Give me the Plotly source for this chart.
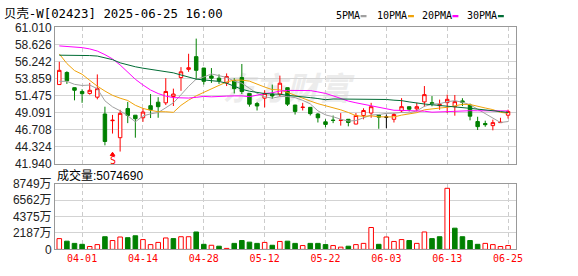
import plotly.graph_objects as go

# ---------------- data ----------------
dates = ["03-27", "03-28", "03-31", "04-01", "04-02", "04-03", "04-07", "04-08", "04-09", "04-10",
         "04-11", "04-14", "04-15", "04-16", "04-17", "04-22", "04-23", "04-24", "04-25", "04-28",
         "04-29", "04-30", "05-02", "05-06", "05-07", "05-08", "05-09", "05-12", "05-13", "05-14",
         "05-15", "05-16", "05-19", "05-20", "05-21", "05-22", "05-23", "05-26", "05-27", "05-28",
         "05-29", "05-30", "06-02", "06-03", "06-04", "06-05", "06-06", "06-09", "06-10", "06-11",
         "06-12", "06-13", "06-16", "06-17", "06-18", "06-19", "06-20", "06-23", "06-24", "06-25"]

opens = [53.01, 54.70, 52.57, 52.04, 51.77, 51.24, 48.89, 47.95, 45.57, 49.65,
         48.72, 48.36, 50.05, 50.54, 50.45, 51.33, 53.99, 55.14, 56.92, 55.32,
         54.21, 53.90, 53.24, 53.54, 53.99, 51.77, 50.35, 51.11, 51.68, 51.68,
         52.57, 50.14, 49.80, 49.82, 48.89, 47.79, 48.03, 47.99, 48.15, 47.48,
         48.68, 49.02, 48.72, 48.45, 48.15, 49.34, 49.91, 49.61, 50.58, 50.48,
         50.05, 50.48, 49.91, 50.72, 50.14, 47.83, 47.56, 47.26, 47.68, 48.72]
highs = [56.20, 54.87, 52.60, 52.35, 53.24, 54.43, 49.91, 48.76, 49.47, 50.58,
         48.75, 49.69, 51.68, 51.24, 53.90, 52.44, 55.45, 57.32, 59.44, 55.35,
         55.32, 54.43, 54.57, 53.90, 55.89, 51.80, 50.58, 52.21, 53.01, 54.26,
         52.60, 50.17, 50.45, 49.85, 49.02, 48.15, 48.68, 49.02, 48.18, 49.02,
         49.69, 50.45, 48.75, 48.81, 49.02, 51.11, 49.94, 50.45, 52.80, 51.40,
         50.90, 51.60, 51.55, 51.10, 50.35, 48.50, 47.95, 48.10, 48.36, 49.50]
lows = [53.00, 53.10, 50.80, 50.45, 51.60, 50.94, 44.50, 46.15, 43.63, 47.61,
        45.57, 47.79, 48.32, 48.36, 50.14, 50.01, 52.13, 54.79, 53.68, 53.01,
        53.24, 53.10, 52.80, 51.77, 51.68, 49.91, 49.38, 49.82, 51.02, 51.33,
        50.01, 48.81, 49.38, 48.68, 47.70, 47.03, 47.61, 47.26, 47.16, 47.45,
        48.15, 48.36, 46.82, 46.90, 47.70, 49.12, 49.25, 49.25, 49.91, 49.97,
        49.48, 49.02, 48.65, 50.00, 48.00, 46.65, 47.10, 46.60, 47.66, 48.25]
closes = [55.00, 53.54, 52.21, 51.73, 52.21, 52.44, 45.04, 48.01, 48.98, 48.68,
          48.23, 49.16, 49.48, 49.91, 52.04, 51.68, 54.79, 55.36, 55.00, 53.46,
          53.90, 53.54, 54.13, 52.44, 52.04, 50.27, 50.01, 51.77, 51.42, 53.20,
          50.27, 49.25, 49.84, 48.94, 48.36, 47.43, 47.99, 48.03, 47.70, 48.68,
          49.38, 49.91, 48.45, 48.45, 48.81, 49.91, 49.56, 49.91, 51.60, 50.35,
          50.22, 50.94, 50.62, 50.52, 48.58, 47.12, 47.39, 47.68, 47.72, 49.25]

# volume in 万 shares
volumes = [1427, 1086, 795, 669, 379, 631, 1679, 1174, 1641, 1553,
           1805, 1300, 631, 922, 1515, 1427, 1679, 1679, 2310, 669,
           543, 417, 126, 795, 1174, 960, 795, 922, 543, 1048,
           1086, 795, 505, 795, 795, 631, 505, 290, 417, 631,
           795, 2904, 669, 1641, 1048, 1300, 1174, 795, 2310, 1427,
           1679, 8118, 2815, 1679, 1174, 669, 795, 631, 379, 507]

ma5 = [53.46, 53.46, 53.04, 52.88, 52.94, 52.43, 50.73, 49.89, 49.34, 48.63,
       47.79, 48.61, 48.91, 49.09, 49.76, 50.45, 51.58, 52.76, 53.77, 54.06,
       54.50, 54.25, 54.01, 53.49, 53.21, 52.48, 51.78, 51.31, 51.10, 51.33,
       51.33, 51.18, 50.80, 50.30, 49.33, 48.76, 48.51, 48.15, 47.90, 47.97,
       48.36, 48.74, 48.82, 48.97, 49.00, 49.11, 49.04, 49.33, 49.96, 50.27,
       50.33, 50.60, 50.75, 50.53, 50.18, 49.56, 48.85, 48.26, 47.70, 47.83]
ma10 = [57.30, 55.95, 54.97, 54.45, 53.60, 52.78, 52.10, 51.50, 51.10, 50.78,
        50.11, 49.67, 49.40, 49.21, 49.20, 49.12, 50.10, 50.83, 51.43, 51.91,
        52.48, 52.92, 53.38, 53.63, 53.63, 53.49, 53.02, 52.66, 52.30, 52.27,
        51.91, 51.48, 51.05, 50.70, 50.33, 50.05, 49.85, 49.47, 49.10, 48.65,
        48.56, 48.63, 48.49, 48.44, 48.48, 48.73, 48.89, 49.08, 49.47, 49.63,
        49.72, 49.82, 50.04, 50.24, 50.22, 49.94, 49.73, 49.50, 49.11, 49.00]
ma20 = [58.42, 58.35, 58.28, 58.18, 58.00, 57.70, 57.20, 56.60, 55.75, 54.70,
        53.75, 52.95, 52.25, 51.75, 51.40, 51.18, 51.12, 51.12, 51.22, 51.35,
        51.29, 51.29, 51.39, 51.42, 51.42, 51.31, 51.56, 51.74, 51.87, 52.09,
        52.19, 52.20, 52.22, 52.17, 51.98, 51.77, 51.43, 51.06, 50.70, 50.46,
        50.23, 50.05, 49.77, 49.57, 49.41, 49.39, 49.37, 49.27, 49.28, 49.14,
        49.14, 49.22, 49.26, 49.34, 49.35, 49.34, 49.31, 49.29, 49.29, 49.32]
ma30 = [57.12, 57.12, 57.12, 57.10, 57.07, 57.00, 56.80, 56.50, 56.05, 55.75,
        55.50, 55.30, 55.15, 55.02, 54.88, 54.65, 54.35, 54.03, 53.77, 53.66,
        53.55, 53.45, 53.20, 52.80, 52.35, 52.08, 51.88, 51.75, 51.68, 51.66,
        51.50, 51.36, 51.28, 51.18, 51.05, 50.89, 50.99, 50.99, 50.94, 50.94,
        50.98, 51.01, 50.97, 50.92, 50.82, 50.76, 50.58, 50.40, 50.29, 50.18,
        50.06, 49.98, 49.86, 49.79, 49.68, 49.57, 49.49, 49.35, 49.23, 49.10]

date_ticks = ["04-01", "04-14", "04-28", "05-12", "05-22", "06-03", "06-13", "06-25"]
price_ticks = ["41.940", "44.324", "46.708", "49.091", "51.475", "53.859", "56.242", "58.626", "61.010"]
vol_ticks = [0, 2187, 4375, 6562, 8749]
vol_tick_text = ["0", "2187万", "4375万", "6562万", "8749万"]
signal_dates = ["04-08"]
title_text = "贝壳-W[02423] 2025-06-25 16:00"
vol_label = "成交量:5074690"
ma_names = ["5PMA", "10PMA", "20PMA", "30PMA"]

# ---------------- style ----------------
W, H = 578, 276
RED = "#ff0000"
GREEN = "#008000"
MA_COLORS = ["#a0a0a0", "#f0a30a", "#ff00ff", "#006c35"]
X0, X1 = 55.7, 522.3
P_TOP, P_BOT = 21.5, 165.0
V_TOP, V_BOT = 186.0, 255.3


def fx(p):
    return p / W


def fy(p):
    return 1 - p / H


fig = go.Figure()

# candles split by direction
up_i = [i for i in range(len(dates)) if closes[i] > opens[i]]
dn_i = [i for i in range(len(dates)) if closes[i] < opens[i]]
fl_i = [i for i in range(len(dates)) if closes[i] == opens[i]]


def sub(arr, idx):
    return [arr[i] for i in idx]


for idx, col, fill in [(up_i, RED, "white"), (dn_i, GREEN, GREEN), (fl_i, "black", "black")]:
    fig.add_trace(go.Candlestick(
        x=sub(dates, idx), open=sub(opens, idx), high=sub(highs, idx),
        low=sub(lows, idx), close=sub(closes, idx),
        increasing=dict(line=dict(color=col, width=1), fillcolor=fill),
        decreasing=dict(line=dict(color=col, width=1), fillcolor=fill),
        whiskerwidth=0, hoverinfo="skip", showlegend=False,
        xaxis="x", yaxis="y"))

# moving averages
for ma, col in zip([ma5, ma10, ma20, ma30], MA_COLORS):
    fig.add_trace(go.Scatter(x=dates, y=ma, mode="lines",
                             line=dict(color=col, width=1),
                             hoverinfo="skip", showlegend=False,
                             xaxis="x", yaxis="y"))

# volume (colour by close vs previous close)
vup = [i for i in range(len(dates)) if i == 0 or closes[i] >= closes[i - 1]]
vdn = [i for i in range(len(dates)) if i > 0 and closes[i] < closes[i - 1]]
fig.add_trace(go.Bar(x=sub(dates, vup), y=sub(volumes, vup), width=0.6,
                     marker=dict(color="white", line=dict(color=RED, width=1)),
                     hoverinfo="skip", showlegend=False, xaxis="x2", yaxis="y2"))
fig.add_trace(go.Bar(x=sub(dates, vdn), y=sub(volumes, vdn), width=0.6,
                     marker=dict(color=GREEN, line=dict(color=GREEN, width=1)),
                     hoverinfo="skip", showlegend=False, xaxis="x2", yaxis="y2"))

xr = [-0.56, 60.04]
common_x = dict(type="category", categoryorder="array", categoryarray=dates,
                range=xr, tickvals=date_ticks, ticktext=date_ticks,
                showgrid=True, gridcolor="#cccccc", griddash="4px,3px", gridwidth=1,
                showline=True, mirror=True, linecolor="#999999", linewidth=1,
                zeroline=False, ticks="", fixedrange=True)

tick_font = dict(family="Liberation Sans, Arial, Noto Sans CJK SC", size=12, color="#222222")

fig.update_layout(
    width=W, height=H, margin=dict(l=0, r=0, t=0, b=0),
    paper_bgcolor="white", plot_bgcolor="white",
    showlegend=False, barmode="overlay", boxgap=0.35,
    xaxis=dict(domain=[fx(X0), fx(X1)], anchor="y", showticklabels=False,
               rangeslider=dict(visible=False), **common_x),
    yaxis=dict(domain=[fy(P_BOT), fy(P_TOP)], anchor="x", range=[41.94, 61.01],
               tickvals=[float(t) for t in price_ticks], ticktext=price_ticks,
               showgrid=True, gridcolor="#d3d3d3", gridwidth=1,
               showline=True, mirror=True, linecolor="#999999", linewidth=1,
               zeroline=False, ticks="", tickfont=tick_font, fixedrange=True),
    xaxis2=dict(domain=[fx(X0), fx(X1)], anchor="y2", showticklabels=True,
                tickfont=dict(family="DejaVu Sans Mono", size=10, color=RED),
                **common_x),
    yaxis2=dict(domain=[fy(V_BOT), fy(V_TOP)], anchor="x2", range=[0, 8749],
                tickvals=vol_ticks, ticktext=vol_tick_text,
                showgrid=True, gridcolor="#d3d3d3", gridwidth=1,
                showline=True, mirror=True, linecolor="#999999", linewidth=1,
                zeroline=False, ticks="", tickfont=tick_font, fixedrange=True),
)

# watermark behind the data
fig.add_shape(type="rect", xref="paper", yref="paper",
              x0=fx(190), x1=fx(390), y0=fy(110), y1=fy(68),
              line=dict(width=0), fillcolor="rgba(0,0,0,0)", layer="below",
              label=dict(text="<b><i>东方财富</i></b>",
                         font=dict(family="Noto Sans CJK SC", size=32, color="#ececec"),
                         textposition="middle center"))

ann = []
ann.append(dict(text=title_text, x=fx(3), y=fy(6.8), xref="paper", yref="paper",
                xanchor="left", yanchor="middle", showarrow=False, borderpad=0,
                font=dict(family="DejaVu Sans Mono, Noto Sans CJK SC", size=12.4, color="#000000")))
ann.append(dict(text=vol_label, x=fx(56), y=fy(178), xref="paper", yref="paper",
                xanchor="left", yanchor="middle", showarrow=False,
                font=dict(family="Liberation Sans, Arial, Noto Sans CJK SC", size=12, color="#000000")))

# legend
leg_x = [338, 380, 425, 471]
leg_w = [25, 31, 31, 31]
for name, col, lx, lw in zip(ma_names, MA_COLORS, leg_x, leg_w):
    ann.append(dict(text=name, x=fx(lx), y=fy(8.7), xref="paper", yref="paper",
                    xanchor="left", yanchor="middle", showarrow=False,
                    font=dict(family="DejaVu Sans Mono", size=10, color="#000000")))
    fig.add_shape(type="rect", xref="paper", yref="paper",
                  x0=fx(lx + lw + 2), x1=fx(lx + lw + 8), y0=fy(10.8), y1=fy(8.4),
                  line=dict(width=0), fillcolor=col)

# signal marker: small caret shape + "S"
for d in signal_dates:
    i = dates.index(d)
    fig.add_shape(type="path", xref="x", yref="paper",
                  path=f"M {i - 0.3},{fy(156.5)} L {i},{fy(153)} L {i + 0.3},{fy(156.5)} Z",
                  line=dict(color=RED, width=1), fillcolor=RED)
    ann.append(dict(text="S", x=d, y=fy(162), xref="x", yref="paper",
                    xanchor="center", yanchor="middle", showarrow=False,
                    font=dict(family="DejaVu Sans Mono", size=10, color=RED)))

fig.update_layout(annotations=ann)
fig.write_html("out.html")
